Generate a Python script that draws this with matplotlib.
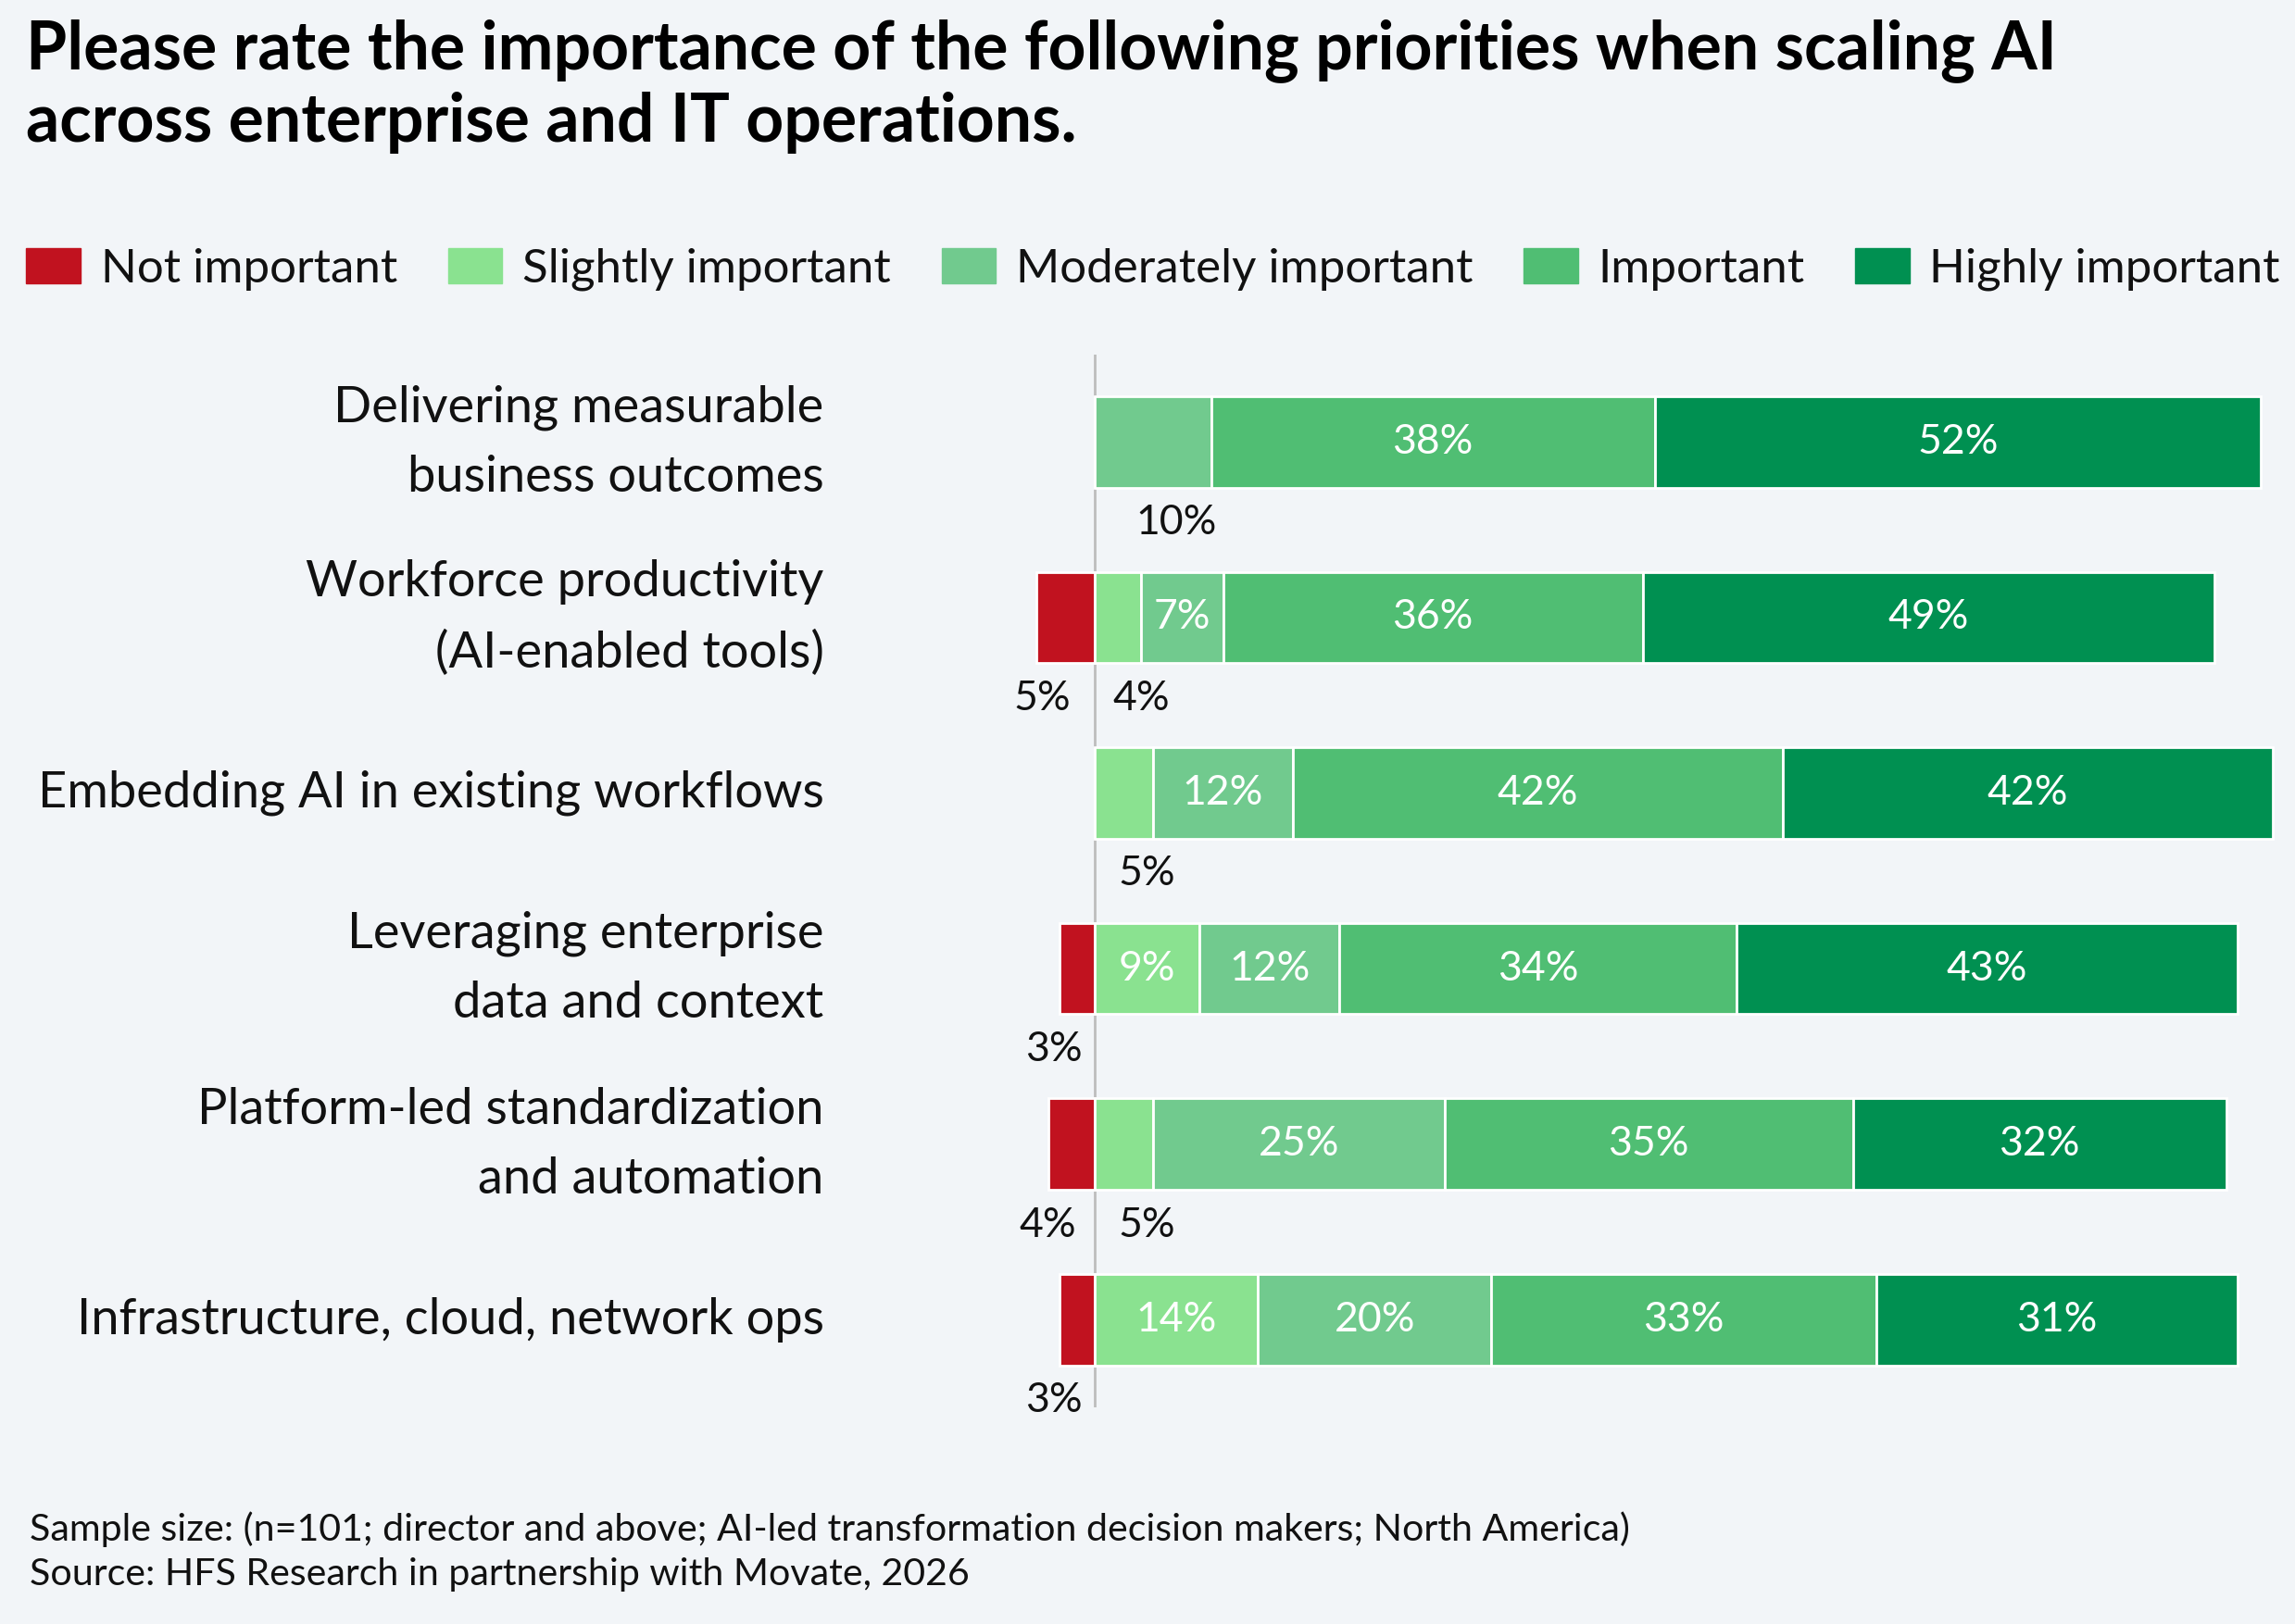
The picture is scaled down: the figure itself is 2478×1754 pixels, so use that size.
import numpy as np
import matplotlib.pyplot as plt
import matplotlib.patches as mpatches

plt.rcParams['font.family'] = ['Lato', 'DejaVu Sans']

# data
categories = ['Delivering measurable\nbusiness outcomes',
              'Workforce productivity\n(AI-enabled tools)',
              'Embedding AI in existing workflows',
              'Leveraging enterprise\ndata and context',
              'Platform-led standardization\nand automation',
              'Infrastructure, cloud, network ops']
not_important = [0, 5, 0, 3, 4, 3]
slightly = [0, 4, 5, 9, 5, 14]
moderately = [10, 7, 12, 12, 25, 20]
important = [38, 36, 42, 34, 35, 33]
highly = [52, 49, 42, 43, 32, 31]

series_names = ['Not important', 'Slightly important', 'Moderately important',
                'Important', 'Highly important']
colors = ['#C1121F', '#8AE290', '#71CA8E', '#50BE73', '#009051']
bg = '#F2F5F8'

fig = plt.figure(figsize=(24.78, 17.54), dpi=100, facecolor=bg)
ax = fig.add_axes([0.4464, 0.1333, 0.5485, 0.6486])
ax.set_facecolor(bg)

y = np.arange(len(categories))
h = 0.52
lab_fs = 32

# negative side (not important)
ax.barh(y, -np.array(not_important), height=h, color=colors[0],
        edgecolor='white', linewidth=2)
for i, v in enumerate(not_important):
    if v > 0:
        ax.text(-v / 2 - 2, y[i] + 0.46, f'{v}%', ha='center', va='center',
                fontsize=lab_fs, color='#111111')

# positive side
left = np.zeros(len(categories))
pos_series = [slightly, moderately, important, highly]
for k, vals in enumerate(pos_series):
    vals = np.array(vals)
    ax.barh(y, vals, left=left, height=h, color=colors[k + 1],
            edgecolor='white', linewidth=2)
    for i, v in enumerate(vals):
        if v == 0:
            continue
        cx = left[i] + v / 2
        if v >= 7 and not (i == 0 and k == 1):
            ax.text(cx, y[i], f'{v}%', ha='center', va='center',
                    fontsize=lab_fs, color='white')
        else:
            # small segments get their label under the bar
            ax.text(cx + 2, y[i] + 0.46, f'{v}%', ha='center', va='center',
                    fontsize=lab_fs, color='#111111')
    left += vals

ax.axvline(0, color='#BDBDBD', linewidth=2, zorder=0)
ax.set_xlim(-6.02, 101.9)
ax.set_ylim(5.5, -0.5)
ax.set_yticks(y)
ax.set_yticklabels(categories, fontsize=39, linespacing=1.65, color='#111111', va='center')
ax.tick_params(axis='y', length=0, pad=156)
ax.set_xticks([])
for s in ax.spines.values():
    s.set_visible(False)

# title
fig.text(0.0115, 0.9468, 'Please rate the importance of the following priorities when scaling AI\n'
         'across enterprise and IT operations.', ha='left', va='center',
         fontsize=51.5, fontweight='bold', color='black', linespacing=1.18)

# legend
handles = [mpatches.Patch(color=c, label=n) for c, n in zip(colors, series_names)]
fig.legend(handles=handles, loc='center left', bbox_to_anchor=(0.0115, 0.834, 0.982, 0.0),
           ncol=5, mode='expand', frameon=False, borderpad=0, fontsize=36.7,
           labelcolor='#111111',
           handlelength=1.15, handleheight=0.75, handletextpad=0.42, borderaxespad=0)

# footer
fig.text(0.013, 0.0446, 'Sample size: (n=101; director and above; AI-led transformation decision makers; North America)\n'
         'Source: HFS Research in partnership with Movate, 2026', ha='left', va='center',
         fontsize=29.6, color='#111111', linespacing=1.35)

fig.savefig('out.png', dpi=100, facecolor=bg)
